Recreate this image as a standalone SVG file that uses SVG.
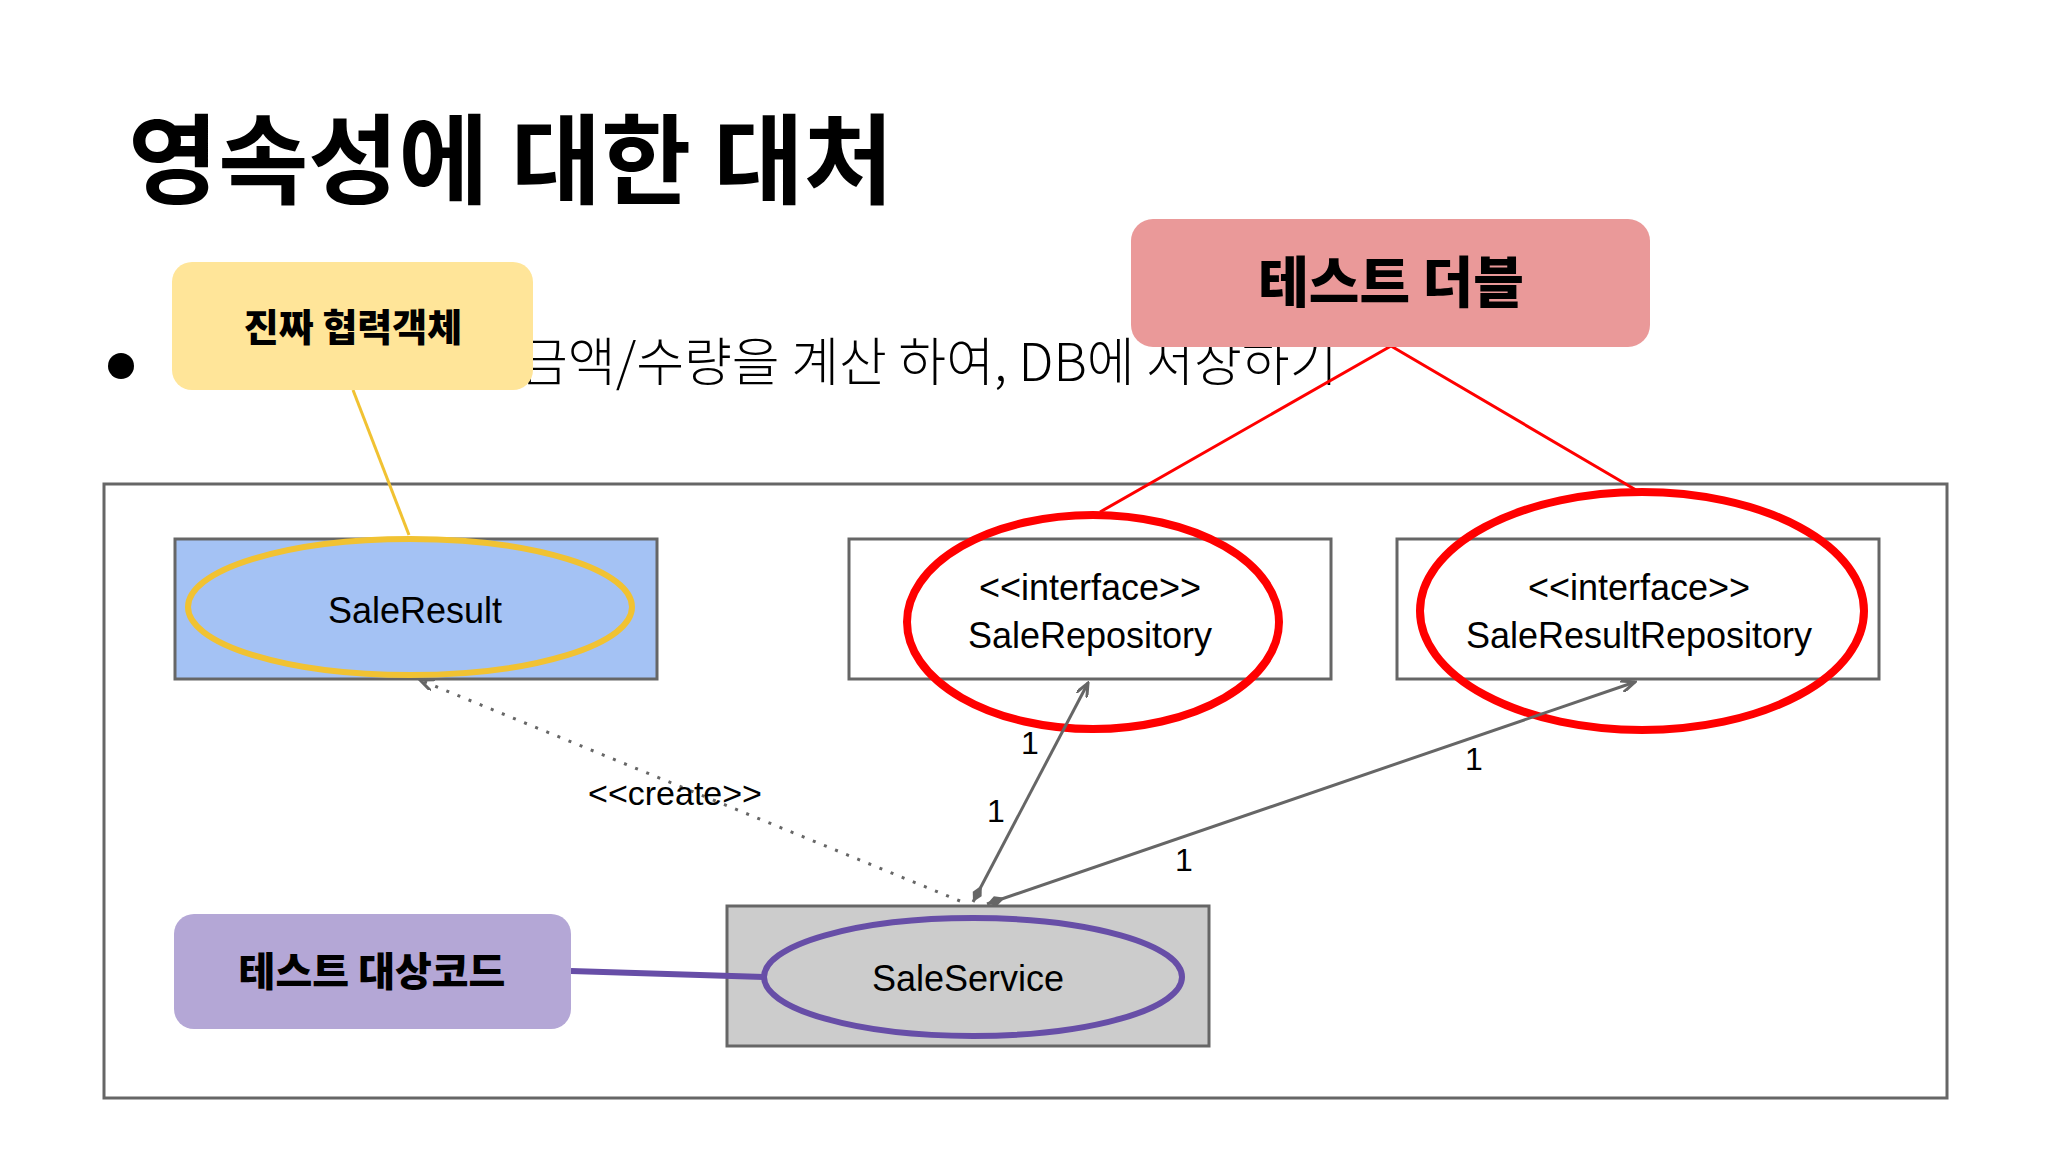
<svg xmlns="http://www.w3.org/2000/svg" width="2048" height="1152" viewBox="0 0 2048 1152">
<style>
.t{font-family:"Liberation Sans","Noto Sans CJK KR",sans-serif;fill:#000}
.k{font-family:"Noto Sans CJK KR",sans-serif;fill:#000}
.box{stroke:#666;stroke-width:3}
.c{stroke:#666;stroke-width:3;fill:none}
</style>
<defs>
<marker id="open" markerWidth="16" markerHeight="12" refX="14" refY="6" orient="auto" markerUnits="userSpaceOnUse"><path d="M0,0 L14,6 L0,12" fill="none" stroke="#666" stroke-width="3"/></marker>
<marker id="dia" markerWidth="24" markerHeight="12" refX="1" refY="6" orient="auto" markerUnits="userSpaceOnUse"><path d="M1,6 L10,1 L20,6 L10,11 Z" fill="#666"/></marker>
</defs>
<rect width="2048" height="1152" fill="#fff"/>
<text class="k" x="128" y="196" font-size="98" font-weight="bold">영속성에 대한 대처</text>
<circle cx="121" cy="366" r="13" fill="#000"/>
<text class="k" x="520" y="381" font-size="52" font-weight="300">금액/수량을 계산 하여, DB에 저장하기</text>
<rect x="104" y="484" width="1843" height="614" fill="none" class="box"/>
<g id="SaleResult">
<rect x="175" y="539" width="482" height="140" fill="#a4c2f4" class="box"/>
<ellipse cx="410" cy="607" rx="222" ry="68" fill="none" stroke="#f1c232" stroke-width="6"/>
<text class="t" x="415" y="623" font-size="36" text-anchor="middle">SaleResult</text>
</g>
<g id="SaleRepository">
<rect x="849" y="539" width="482" height="140" fill="#fff" class="box"/>
<ellipse cx="1093" cy="622" rx="186" ry="107" fill="none" stroke="#f00" stroke-width="8"/>
<text class="t" x="1090" y="600" font-size="36" text-anchor="middle">&lt;&lt;interface&gt;&gt;</text>
<text class="t" x="1090" y="648" font-size="36" text-anchor="middle">SaleRepository</text>
</g>
<g id="SaleResultRepository">
<rect x="1397" y="539" width="482" height="140" fill="#fff" class="box"/>
<ellipse cx="1642" cy="611" rx="222" ry="119" fill="none" stroke="#f00" stroke-width="8"/>
<text class="t" x="1639" y="600" font-size="36" text-anchor="middle">&lt;&lt;interface&gt;&gt;</text>
<text class="t" x="1639" y="648" font-size="36" text-anchor="middle">SaleResultRepository</text>
</g>
<g id="SaleService">
<rect x="727" y="906" width="482" height="140" fill="#ccc" class="box"/>
<ellipse cx="973" cy="977" rx="209" ry="59" fill="none" stroke="#674ea7" stroke-width="6"/>
<text class="t" x="968" y="991" font-size="36" text-anchor="middle">SaleService</text>
</g>
<g id="connectors">
<path d="M960,901 L420,680" class="c" stroke-dasharray="3,9" marker-end="url(#open)"/>
<text class="t" x="675" y="805" font-size="34" text-anchor="middle">&lt;&lt;create&gt;&gt;</text>
<path d="M973,902 L1088,683" class="c" marker-start="url(#dia)" marker-end="url(#open)"/>
<text class="t" x="1030" y="754" font-size="32" text-anchor="middle">1</text>
<text class="t" x="996" y="822" font-size="32" text-anchor="middle">1</text>
<path d="M987,904 L1635,682" class="c" marker-start="url(#dia)" marker-end="url(#open)"/>
<text class="t" x="1474" y="770" font-size="32" text-anchor="middle">1</text>
<text class="t" x="1184" y="871" font-size="32" text-anchor="middle">1</text>
<path d="M353,390 L409,535" stroke="#f1c232" stroke-width="3" fill="none"/>
<path d="M1391,346 L1100,512 M1391,346 L1636,490" stroke="#f00" stroke-width="3" fill="none"/>
<path d="M571,971 L764,977" stroke="#674ea7" stroke-width="6" fill="none"/>
</g>
<g id="real">
<rect x="172" y="262" width="361" height="128" rx="20" fill="#ffe599"/>
<text class="k" x="353" y="341" font-size="38" font-weight="900" text-anchor="middle">진짜 협력객체</text>
</g>
<g id="double">
<rect x="1131" y="219" width="519" height="128" rx="22" fill="#ea9999"/>
<text class="k" x="1391" y="302" font-size="55" font-weight="900" text-anchor="middle">테스트 더블</text>
</g>
<g id="target">
<rect x="174" y="914" width="397" height="115" rx="20" fill="#b4a7d6"/>
<text class="k" x="372" y="986" font-size="40" font-weight="900" text-anchor="middle">테스트 대상코드</text>
</g>
</svg>
